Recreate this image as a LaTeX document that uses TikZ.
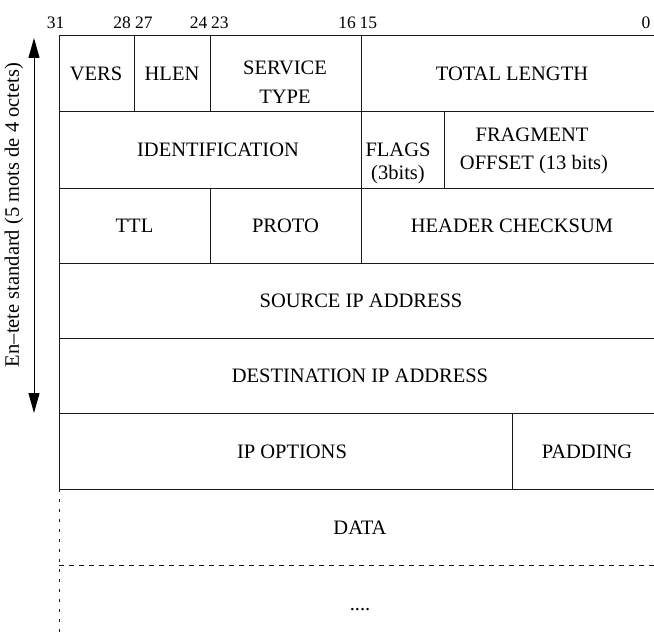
\documentclass[tikz,border=0pt]{standalone}
\usepackage{fontspec}
\setmainfont{Liberation Serif}
\usetikzlibrary{arrows.meta}
\begin{document}
\begin{tikzpicture}[x=1pt,y=-1pt,
  grid/.style={line width=1pt, black!90},
  lbl/.style={font=\fontsize{20.5}{23}\selectfont, inner sep=0, anchor=base},
  num/.style={font=\fontsize{17.5}{19}\selectfont, inner sep=0},
  dashline/.style={line width=1pt, black!90, dash pattern=on 5pt off 5pt},
  dotline/.style={line width=1pt, black!90, dash pattern=on 2.5pt off 7.5pt},
  tip/.style={line width=1pt, {Triangle[length=20pt,width=11pt]}-{Triangle[length=20pt,width=11pt]}}
]
\useasboundingbox (0,0) rectangle (654,634);
% grid
\draw[grid] (59,489) -- (59,36) -- (654,36);
\foreach \y in {112,188,263,338,413,489} \draw[grid] (59,\y) -- (654,\y);
\draw[grid] (134,36) -- (134,112);
\draw[grid] (210,36) -- (210,112);
\draw[grid] (361,36) -- (361,263);
\draw[grid] (444,112) -- (444,188);
\draw[grid] (210,188) -- (210,263);
\draw[grid] (512,413) -- (512,489);
\draw[dashline] (59,565) -- (654,565);
\draw[dotline] (59,489) -- (59,634);
% field labels
\node[lbl] (vers) at (96,81) {VERS};
\node[lbl] (hlen) at (172,81) {HLEN};
\node[lbl] (serv1) at (285,75) {SERVICE};
\node[lbl] (serv2) at (285,103) {TYPE};
\node[lbl] (total) at (512,81) {TOTAL LENGTH};
\node[lbl] (ident) at (218,157) {IDENTIFICATION};
\node[lbl] (flags) at (398,156) {FLAGS};
\node[lbl] (flagsb) at (398,179) {(3bits)};
\node[lbl] (frag1) at (532,141) {FRAGMENT};
\node[lbl] (frag2) at (534,169) {OFFSET (13 bits)};
\node[lbl] (ttl) at (134.5,232.5) {TTL};
\node[lbl] (proto) at (285.5,232.5) {PROTO};
\node[lbl] (hcs) at (512,232.5) {HEADER CHECKSUM};
\node[lbl] (src) at (361,307.5) {SOURCE IP ADDRESS};
\node[lbl] (dst) at (360,382.5) {DESTINATION IP ADDRESS};
\node[lbl] (opt) at (292,458) {IP OPTIONS};
\node[lbl] (pad) at (587,458) {PADDING};
\node[lbl] (data) at (360,534.5) {DATA};
\node[lbl] (more) at (360,610) {....};
% bit numbers
\node[num, anchor=base] (b31) at (55.5,29) {31};
\node[num, anchor=base east] (b28) at (131,29) {28};
\node[num, anchor=base west] (b27) at (135,29) {27};
\node[num, anchor=base east] (b24) at (207.5,29) {24};
\node[num, anchor=base west] (b23) at (211,29) {23};
\node[num, anchor=base east] (b16) at (356,29) {16};
\node[num, anchor=base west] (b15) at (359.5,29) {15};
\node[num, anchor=base] (b0) at (646,29) {0};
% header arrow
\coordinate (atop) at (34,38);
\coordinate (abot) at (34,413);
\draw[tip] (atop) -- (abot);
\node[lbl, anchor=center, rotate=90] (side) at (14,215) {En–tete standard (5 mots de 4 octets)};
\end{tikzpicture}
\end{document}
